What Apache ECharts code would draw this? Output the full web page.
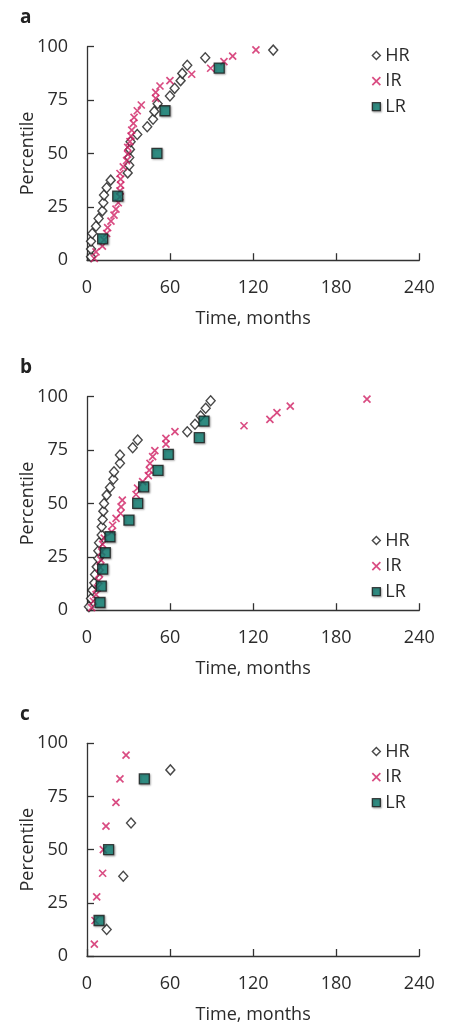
<!DOCTYPE html>
<html>
<head>
<meta charset="utf-8">
<script src="https://cdn.jsdelivr.net/npm/echarts@6/dist/echarts.min.js"></script>
<style>
  html, body { margin: 0; padding: 0; background: #fff; }
  #chart { width: 449px; height: 1025px; }
</style>
</head>
<body>
<div id="chart"></div>
<script>
// [months, percentile]
const aHR = [[2.9,1.6],[2.9,5.2],[2.9,8.9],[3.8,12.5],[6.5,15.9],[8.4,19.5],[11.1,23.1],[11.8,26.9],[12.3,30.5],[14.2,33.9],[17.1,37.5],[29.4,40.9],[30.5,44.5],[30.5,48.1],[31.0,51.9],[31.5,55.5],[36.3,58.9],[43.5,62.5],[47.7,66.0],[48.6,69.7],[51.0,73.3],[59.9,76.9],[63.3,80.5],[67.6,84.1],[68.8,87.5],[72.4,91.3],[85.4,94.8],[134.5,98.4]]
const aIR = [[5.3,0.8],[6.5,3.9],[11.1,6.6],[12.3,9.5],[14.2,12.5],[14.9,15.3],[17.3,18.3],[19.5,21.1],[20.9,23.9],[22.6,26.9],[23.8,29.7],[23.8,32.5],[24.3,35.2],[24.3,38.0],[23.8,40.6],[26.2,43.7],[28.6,46.6],[29.4,49.7],[29.4,52.8],[31.0,55.5],[31.8,58.1],[32.3,60.9],[33.5,64.1],[34.0,66.9],[36.3,70.0],[39.2,72.7],[49.6,75.8],[49.6,78.6],[52.7,81.6],[59.9,84.1],[75.6,87.1],[89.3,89.9],[98.9,93.0],[105.2,95.6],[122.0,98.5]]
const aLR = [[11.3,10],[22.2,30],[50.5,50],[56.3,70],[95.5,90]]

const bHR = [[1.4,1.6],[2.9,5.5],[3.8,9.4],[5.3,12.8],[5.8,16.7],[7.0,20.3],[8.2,24.2],[8.2,27.8],[8.7,31.6],[10.6,35.2],[10.6,39.1],[11.3,42.5],[11.8,46.4],[12.3,50.0],[14.2,53.9],[16.6,57.5],[19.0,61.3],[19.5,64.8],[23.8,68.8],[23.8,72.7],[33.0,76.1],[36.6,79.7],[72.4,83.6],[78.0,87.1],[82.1,91.0],[85.7,94.6],[89.3,98.1]]
const bIR = [[3.4,1.2],[4.6,4.2],[6.5,7.3],[7.5,10.4],[8.5,13.8],[9.0,17.0],[9.5,20.2],[10.0,23.6],[10.6,27.3],[11.3,30.8],[12.5,33.8],[17.8,36.7],[18.5,39.8],[21.0,43.0],[24.3,45.3],[24.6,48.4],[25.5,51.6],[35.4,54.2],[36.5,57.2],[40.2,60.2],[44.3,63.0],[45.0,65.6],[45.5,68.8],[47.4,71.9],[49.0,74.7],[57.0,77.8],[57.0,80.5],[63.5,83.6],[113.4,86.4],[132.1,89.4],[137.2,92.5],[146.8,95.6],[202.2,98.9]]
const bLR = [[9.4,3.6],[10.3,11.3],[11.3,19.2],[13.2,26.9],[16.6,34.4],[30.3,42.2],[36.6,50.0],[40.9,57.8],[51.3,65.5],[58.7,73.0],[81.1,80.8],[84.5,88.6]]

const cHR = [[14.2,12.5],[26.2,37.5],[31.8,62.5],[60.2,87.5]]
const cIR = [[5.3,5.6],[5.8,16.7],[7.0,27.8],[11.3,38.9],[11.8,50.0],[13.7,61.1],[20.9,72.2],[23.8,83.3],[28.2,94.4]]
const cLR = [[8.7,16.7],[15.6,50.0],[41.4,83.3]]

const panels = [
  { letter: 'a', data: [aHR, aIR, aLR] },
  { letter: 'b', data: [bHR, bIR, bLR] },
  { letter: 'c', data: [cHR, cIR, cLR] },
]
const groups = ['HR', 'IR', 'LR']
const xTicks = [0, 60, 120, 180, 240]
const yTicks = [0, 25, 50, 75, 100]

// layout (px)
const gridTops = [46.7, 396.7, 743.3]
const gridH = 213.5
const legendTops = [45.5, 530.5, 741.5]
const letterBase = [22.7, 372.7, 720]

const FONT = '"Open Sans", sans-serif'
const INK = '#2b2b2b'
const CROSS = 'path://M0,0L10,10M10,0L0,10'
const style = {
  HR: { symbol: 'diamond', symbolSize: [9, 10], itemStyle: { color: '#fff', borderColor: '#1a1a1a', borderWidth: 1.4 } },
  IR: { symbol: CROSS, symbolSize: 7, itemStyle: { color: '#cf1f63', borderColor: '#cf1f63', borderWidth: 1.7 } },
  LR: { symbol: 'rect', symbolSize: 10, itemStyle: { color: '#0c7f73', borderColor: '#1a1a1a', borderWidth: 1.3,
        shadowBlur: 2, shadowColor: 'rgba(0,0,0,0.35)', shadowOffsetX: 1, shadowOffsetY: 1 } },
}

const grid = [], xAxis = [], yAxis = [], series = [], legend = [], graphic = []
panels.forEach((p, i) => {
  grid.push({ left: 87, right: 29.7, top: gridTops[i], height: gridH })
  xAxis.push({
    gridIndex: i, type: 'value', min: 0, max: 240, interval: 60, offset: 13,
    name: 'Time, months', nameLocation: 'middle', nameGap: 37, nameMoveOverlap: false,
    nameTextStyle: { fontFamily: FONT, fontSize: 18, color: INK },
    axisLine: { lineStyle: { color: '#333', width: 1.3 } },
    axisTick: { inside: true, length: 7, lineStyle: { color: '#333', width: 1.3 } },
    axisLabel: { margin: 6, fontFamily: FONT, fontSize: 18, color: INK,
      formatter: v => xTicks.includes(v) ? String(v) : '' },
    splitLine: { show: false },
  })
  yAxis.push({
    gridIndex: i, type: 'value', min: 0, max: 100, interval: 25, offset: 12,
    name: 'Percentile', nameLocation: 'middle', nameGap: 38, nameMoveOverlap: false,
    nameTextStyle: { fontFamily: FONT, fontSize: 18, color: INK },
    axisLine: { show: true, lineStyle: { color: '#333', width: 1.3 } },
    axisTick: { show: true, inside: true, length: 7, lineStyle: { color: '#333', width: 1.3 } },
    axisLabel: { margin: 7, fontFamily: FONT, fontSize: 18, color: INK,
      formatter: v => yTicks.includes(v) ? String(v) : '' },
    splitLine: { show: false },
  })
  groups.forEach((g, k) => {
    series.push(Object.assign({
      type: 'scatter', name: g, xAxisIndex: i, yAxisIndex: i,
      data: p.data[k], z: 2 + k,
    }, style[g]))
  })
  legend.push({
    orient: 'vertical', left: 371.5, top: legendTops[i], padding: 0,
    itemWidth: 8, itemHeight: 8, itemGap: 5.6,
    textStyle: { fontFamily: FONT, fontSize: 18, color: INK, lineHeight: 20 },
    selectedMode: false,
    data: groups.map(g => ({ name: g, icon: style[g].symbol, itemStyle: style[g].itemStyle })),
  })
  graphic.push({
    type: 'text', left: 20, top: letterBase[i] - 15,
    style: { text: p.letter, fontFamily: FONT, fontWeight: 'bold', fontSize: 19, fill: '#222' },
  })
})

const chart = echarts.init(document.getElementById('chart'), null, { renderer: 'canvas' })
chart.setOption({ animation: false, grid, xAxis, yAxis, series, legend, graphic })
</script>
</body>
</html>
